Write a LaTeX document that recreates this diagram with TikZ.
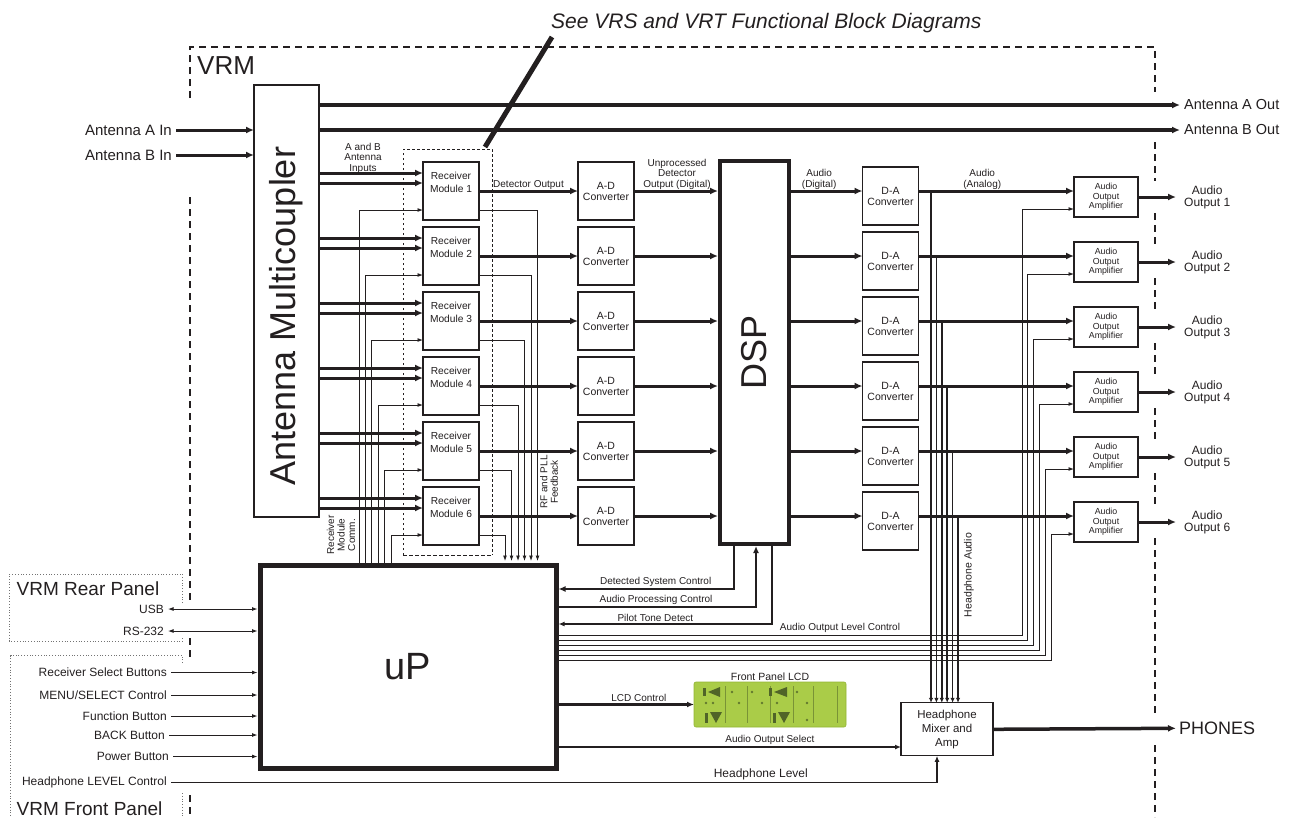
\documentclass[tikz,border=0pt]{standalone}
\usepackage{fontspec}
\setmainfont{Liberation Sans}
\usepackage{graphicx}
\usepackage{xcolor}
\usepackage{tikz}
\usetikzlibrary{arrows.meta,
positioning,
calc}

\newcommand{\pxfont}[2]{\fontsize{#1pt}{#2pt}\selectfont}
\definecolor{ink}{RGB}{35,31,32}
\definecolor{lcdgreen}{RGB}{170,204,72}
\definecolor{lcdedge}{RGB}{146,180,52}
\definecolor{lcdink}{RGB}{80,100,40}

\begin{document}
\begin{tikzpicture}[
    x=1pt, y=-1pt,
    box/.style={draw=ink, line width=1.2pt, fill=white, text=ink, align=center, inner sep=0pt, outer sep=0pt},
    rxbox/.style={box, minimum width=56pt, minimum height=58pt, font=\pxfont{10.2}{13.5}},
    convbox/.style={box, minimum width=56pt, minimum height=58pt, font=\pxfont{10.5}{11}},
    ampbox/.style={box, minimum width=64pt, minimum height=40pt, font=\pxfont{8.8}{9.5}},
    bigbox/.style={draw=ink, fill=white, text=ink, inner sep=0pt, outer sep=0pt},
    lbl/.style={text=ink, align=center, inner sep=1.5pt, font=\pxfont{10}{10.5}},
    iolbl/.style={text=ink, inner sep=4pt, font=\pxfont{12}{14}},
    outlbl/.style={text=ink, align=center, inner xsep=8pt, inner ysep=0pt, font=\pxfont{12}{12}},
    bus/.style={draw=ink, line width=3pt, -{Latex[length=8pt,width=7pt]}},
    ctl/.style={draw=ink, line width=2.6pt, -{Latex[length=7pt,width=6pt]}},
    ctlthin/.style={draw=ink, line width=1.8pt, -{Latex[length=6pt,width=5pt]}},
    sig/.style={draw=ink, line width=0.9pt, -{Latex[length=5.5pt,width=4pt]}},
    sigboth/.style={draw=ink, line width=0.9pt, {Latex[length=5.5pt,width=4pt]}-{Latex[length=5.5pt,width=4pt]}},
    hpline/.style={draw=ink, line width=1.6pt, -{Latex[length=5pt,width=4.5pt]}},
    vrmline/.style={draw=ink, line width=1.4pt, dash pattern=on 7pt off 5pt},
    panel/.style={draw=black!55, line width=0.8pt, dotted},
    grpline/.style={draw=ink, line width=0.9pt, dash pattern=on 2.5pt off 2.5pt}
]
\useasboundingbox (0,0) rectangle (1299,817);

% VRM boundary
\draw[vrmline] (190,98) -- (190,47) -- (1155,47) -- (1155,92);
\foreach \ya/\yb in {142/181,213/246,278/311,343/376,408/441,473/506,538/714,745/817}
    \draw[vrmline] (1155,\ya) -- (1155,\yb);
\foreach \ya/\yb in {197/600,638/660,795/817}
    \draw[vrmline] (190,\ya) -- (190,\yb);
\node[anchor=base west, inner sep=0pt, text=ink, font=\pxfont{26}{26}] (vrm) at (197,74) {VRM};

% rear and front panels
\draw[panel] (182.7,603) -- (182.7,574) -- (9.3,574) -- (9.3,641) -- (182.7,641) -- (182.7,637);
\draw[panel] (182.7,663) -- (182.7,655.7) -- (10.7,655.7) -- (10.7,817);
\draw[panel] (182.7,793) -- (182.7,817);
\node[anchor=base west, inner sep=0pt, text=ink, font=\pxfont{19}{19}] (rear) at (16.5,595) {VRM Rear Panel};
\node[anchor=base west, inner sep=0pt, text=ink, font=\pxfont{19}{19}] (front) at (16.5,815) {VRM Front Panel};

% receiver group outline
\coordinate (grpNW) at (403,149);
\coordinate (grpSE) at (492,555);
\draw[grpline] (grpNW |- grpSE) -- (grpNW) -- (grpNW -| grpSE) -- (grpSE);
\draw[grpline, dash pattern=on 4pt off 2pt] (grpNW |- grpSE) -- (grpSE);

% title and pointer
\node[anchor=base west, inner sep=0pt, text=ink, font=\pxfont{21}{21}\itshape] (title) at (551,28) {See VRS and VRT Functional Block Diagrams};
\draw[ink, line width=5pt] ($(title.base west)+(1,9)$) -- ($(grpNW -| grpSE)+(-7,-2)$);

% main blocks
\node[box, minimum width=65pt, minimum height=432pt] (amc) at (286.5,301)
    {\rotatebox{90}{\pxfont{36}{36}Antenna Multicoupler\hspace{30pt}}};
\node[bigbox, line width=4pt, minimum width=69pt, minimum height=383pt] (dsp) at (754.5,352.5)
    {\rotatebox{90}{\pxfont{36}{36}DSP}};
\node[bigbox, line width=5pt, minimum width=296pt, minimum height=203pt, font=\pxfont{38}{38}] (up) at (408,666.5) {uP};

\node[rxbox] (rm1) at (451,191) {Receiver\\Module 1\\\strut};
\node[rxbox, below=7pt of rm1] (rm2) {Receiver\\Module 2\\\strut};
\node[rxbox, below=7pt of rm2] (rm3) {Receiver\\Module 3\\\strut};
\node[rxbox, below=7pt of rm3] (rm4) {Receiver\\Module 4\\\strut};
\node[rxbox, below=7pt of rm4] (rm5) {Receiver\\Module 5\\\strut};
\node[rxbox, below=7pt of rm5] (rm6) {Receiver\\Module 6\\\strut};

\node[convbox, right=99pt of rm1] (ad1) {A-D\\Converter};
\node[convbox, right=99pt of rm2] (ad2) {A-D\\Converter};
\node[convbox, right=99pt of rm3] (ad3) {A-D\\Converter};
\node[convbox, right=99pt of rm4] (ad4) {A-D\\Converter};
\node[convbox, right=99pt of rm5] (ad5) {A-D\\Converter};
\node[convbox, right=99pt of rm6] (ad6) {A-D\\Converter};

\node[convbox] (da1) at (890.5,196) {D-A\\Converter};
\node[convbox, below=7pt of da1] (da2) {D-A\\Converter};
\node[convbox, below=7pt of da2] (da3) {D-A\\Converter};
\node[convbox, below=7pt of da3] (da4) {D-A\\Converter};
\node[convbox, below=7pt of da4] (da5) {D-A\\Converter};
\node[convbox, below=7pt of da5] (da6) {D-A\\Converter};

\node[ampbox] (am1) at (1106,197) {Audio\\Output\\Amplifier};
\node[ampbox, below=25pt of am1] (am2) {Audio\\Output\\Amplifier};
\node[ampbox, below=25pt of am2] (am3) {Audio\\Output\\Amplifier};
\node[ampbox, below=25pt of am3] (am4) {Audio\\Output\\Amplifier};
\node[ampbox, below=25pt of am4] (am5) {Audio\\Output\\Amplifier};
\node[ampbox, below=25pt of am5] (am6) {Audio\\Output\\Amplifier};

\node[outlbl, right=38pt of am1] (ao1) {Audio\\Output 1};
\node[outlbl, right=38pt of am2] (ao2) {Audio\\Output 2};
\node[outlbl, right=38pt of am3] (ao3) {Audio\\Output 3};
\node[outlbl, right=38pt of am4] (ao4) {Audio\\Output 4};
\node[outlbl, right=38pt of am5] (ao5) {Audio\\Output 5};
\node[outlbl, right=38pt of am6] (ao6) {Audio\\Output 6};

\node[box, minimum width=92pt, minimum height=53pt, font=\pxfont{11.5}{14}] (hpmix) at (947,729.3) {Headphone\\Mixer and\\Amp};
\node[anchor=west, inner xsep=3pt, text=ink, font=\pxfont{18}{18}] (phones) at (1176,728.3) {PHONES};

% front panel LCD
\node[fill=lcdgreen, draw=lcdedge, line width=0.6pt, rounded corners=2pt, minimum width=152pt, minimum height=45pt, inner sep=0pt, outer sep=0pt] (lcd) at (770,704.5) {};
\node[lbl, anchor=south, font=\pxfont{10.5}{11}] (lcdlbl) at (lcd.north) {Front Panel LCD};
\begin{scope}[shift={(lcd.north west)}]
    \foreach \xx in {31,53,76,99,119,143}
        \draw[lcdink!55!lcdgreen, line width=0.8pt] (\xx,4) -- (\xx,41);
    \fill[lcdink] (14,10) -- (26,5) -- (26,15) -- cycle;
    \fill[lcdink] (80,10) -- (93,5) -- (93,15) -- cycle;
    \fill[lcdink] (9,6) rectangle (12,14);
    \fill[lcdink] (75,6) rectangle (78,14);
    \fill[lcdink] (16,30) -- (28,30) -- (22,41) -- cycle;
    \fill[lcdink] (84,30) -- (96,30) -- (90,41) -- cycle;
    \fill[lcdink] (11,31) rectangle (13.5,41);
    \fill[lcdink] (79,31) rectangle (81.5,41);
    \foreach \xx/\yy in {12/21,19/21,45/21,68/21,83/21,113/21,38/10,58/10,103/10,113/38}
        \fill[lcdink!80!lcdgreen] (\xx,\yy) circle (1.3);
\end{scope}

% edge labels
\node[iolbl, anchor=east, font=\pxfont{15}{15}] (antAin) at (176,130) {Antenna A In};
\node[iolbl, anchor=east, font=\pxfont{15}{15}] (antBin) at (176,155) {Antenna B In};
\node[iolbl, anchor=west, font=\pxfont{14.5}{15}] (antAout) at (1180,105) {Antenna A Out};
\node[iolbl, anchor=west, font=\pxfont{14.5}{15}] (antBout) at (1180,130) {Antenna B Out};
\node[iolbl, anchor=east] (usb) at (168,609) {USB};
\node[iolbl, anchor=east] (rs232) at (168,631) {RS-232};
\node[iolbl, anchor=east] (rsel) at (171,672.5) {Receiver Select Buttons};
\node[iolbl, anchor=east] (menu) at (171,695) {MENU/SELECT Control};
\node[iolbl, anchor=east] (fbtn) at (171,716) {Function Button};
\node[iolbl, anchor=east] (back) at (169,735) {BACK Button};
\node[iolbl, anchor=east] (pwr) at (173,756.5) {Power Button};
\node[iolbl, anchor=east] (hlvl) at (171,782.5) {Headphone LEVEL Control};

% signal labels
\node[lbl] (ablbl) at (363,158) {A and B\\Antenna\\Inputs};
\node[lbl, anchor=south] (detlbl) at ($(rm1.east)!0.5!(ad1.west)$) {Detector Output};
\node[lbl, anchor=south] (udolbl) at ($(ad1.east)!0.5!(ad1.east -| dsp.west)$) {Unprocessed\\Detector\\Output (Digital)};
\node[lbl, anchor=south] (adiglbl) at ($(dsp.east |- ad1.east)!0.41!(da1.west |- ad1.east)$) {Audio\\(Digital)};
\node[lbl, anchor=south] (aanlbl) at ($(da1.east |- ad1.east)!0.41!(am1.west |- ad1.east)$) {Audio\\(Analog)};
\node[lbl, rotate=90] (commlbl) at (341,535) {Receiver\\Module\\Comm.};
\node[lbl, rotate=90] (fblbl) at (549,482) {RF and PLL\\Feedback};
\node[lbl, rotate=90, font=\pxfont{10.5}{11}] (hpalbl) at (969,575) {Headphone Audio};
\node[lbl] (aolclbl) at (840,628) {Audio Output Level Control};

% antenna paths
\draw[bus] (antAin.east) -- (antAin.east -| amc.west);
\draw[bus] (antBin.east) -- (antBin.east -| amc.west);
\draw[bus, line width=3.5pt] (amc.east |- antAout.west) -- (antAout.west);
\draw[bus, line width=3.5pt] (amc.east |- antBout.west) -- (antBout.west);

% per receiver channel
\foreach \i in {1,...,6}{
    \coordinate (inA\i) at ($(rm\i.west)+(0,-18)$);
    \coordinate (inB\i) at ($(rm\i.west)+(0,-8)$);
    \draw[sig] ($(up.north west)+({99+6.4*(\i-1)},0)$) |- ($(rm\i.west)+(0,19)$);
    \draw[sig, shorten >=4pt] ($(rm\i.east)+(0,19)$) -| ($(up.north west)+({277.5-6.5*(\i-1)},0)$);
    \coordinate (ain\i) at ($(am\i.west)+(0,12)$);
    \draw[sig] ($(up.north east)+(0,{70+5*(\i-1)})$) -| ($(ain\i)+({-52+5.8*(\i-1)},0)$) -- (ain\i);
    \coordinate (hp\i) at ($(da\i.east |- ad\i.east)+({12.5+5.4*(\i-1)},0)$);
    \draw[hpline] (hp\i) -- (hp\i |- hpmix.north);
    \draw[bus] (amc.east |- inA\i) -- (inA\i);
    \draw[bus] (amc.east |- inB\i) -- (inB\i);
    \draw[bus] (rm\i.east) -- (ad\i.west);
    \draw[bus, shorten >=2pt] (ad\i.east) -- (ad\i.east -| dsp.west);
    \draw[bus] (dsp.east |- ad\i.east) -- (da\i.west |- ad\i.east);
    \draw[bus] (da\i.east |- ad\i.east) -- (am\i.west |- ad\i.east);
    \draw[bus] (am\i.east) -- (ao\i.west);
}

% DSP and uP control
\draw[ctl, shorten >=2.5pt] ($(dsp.south west)+(14,0)$) |- node[lbl, above, pos=0.72] (dsclbl) {Detected System Control} ($(up.north east)+(0,24)$);
\draw[ctl, shorten >=2pt] ($(up.north east)+(0,42)$) -| node[lbl, above, pos=0.25] (apclbl) {Audio Processing Control} ($(dsp.south west)+(36,0)$);
\draw[ctlthin, shorten >=2.5pt] ($(dsp.south west)+(52,0)$) |- node[lbl, above, pos=0.77] (ptdlbl) {Pilot Tone Detect} ($(up.north east)+(0,59)$);
\draw[ctl] (up.east |- lcd.west) -- node[lbl, above, pos=0.6] (lcdctl) {LCD Control} (lcd.west);
\coordinate (aos) at ($(up.south east)+(0,-21)$);
\draw[ctlthin] (aos) -- node[lbl, above, pos=0.62] (aoslbl) {Audio Output Select} (aos -| hpmix.west);
\draw[bus, line width=3.5pt] (hpmix.east) -- (phones.west);

% panel inputs
\draw[sigboth, shorten >=2.5pt] (usb.east) -- (usb.east -| up.west);
\draw[sigboth, shorten >=2.5pt] (rs232.east) -- (rs232.east -| up.west);
\draw[sig, shorten >=2.5pt] (rsel.east) -- (rsel.east -| up.west);
\draw[sig, shorten >=2.5pt] (menu.east) -- (menu.east -| up.west);
\draw[sig, shorten >=2.5pt] (fbtn.east) -- (fbtn.east -| up.west);
\draw[sig, shorten >=2.5pt] (back.east) -- (back.east -| up.west);
\draw[sig, shorten >=2.5pt] (pwr.east) -- (pwr.east -| up.west);
\draw[ctlthin] (hlvl.east) -| node[lbl, above, pos=0.385, font=\pxfont{12}{12}] (hplvl) {Headphone Level} ($(hpmix.south)+(-10,0)$);

\end{tikzpicture}
\end{document}
